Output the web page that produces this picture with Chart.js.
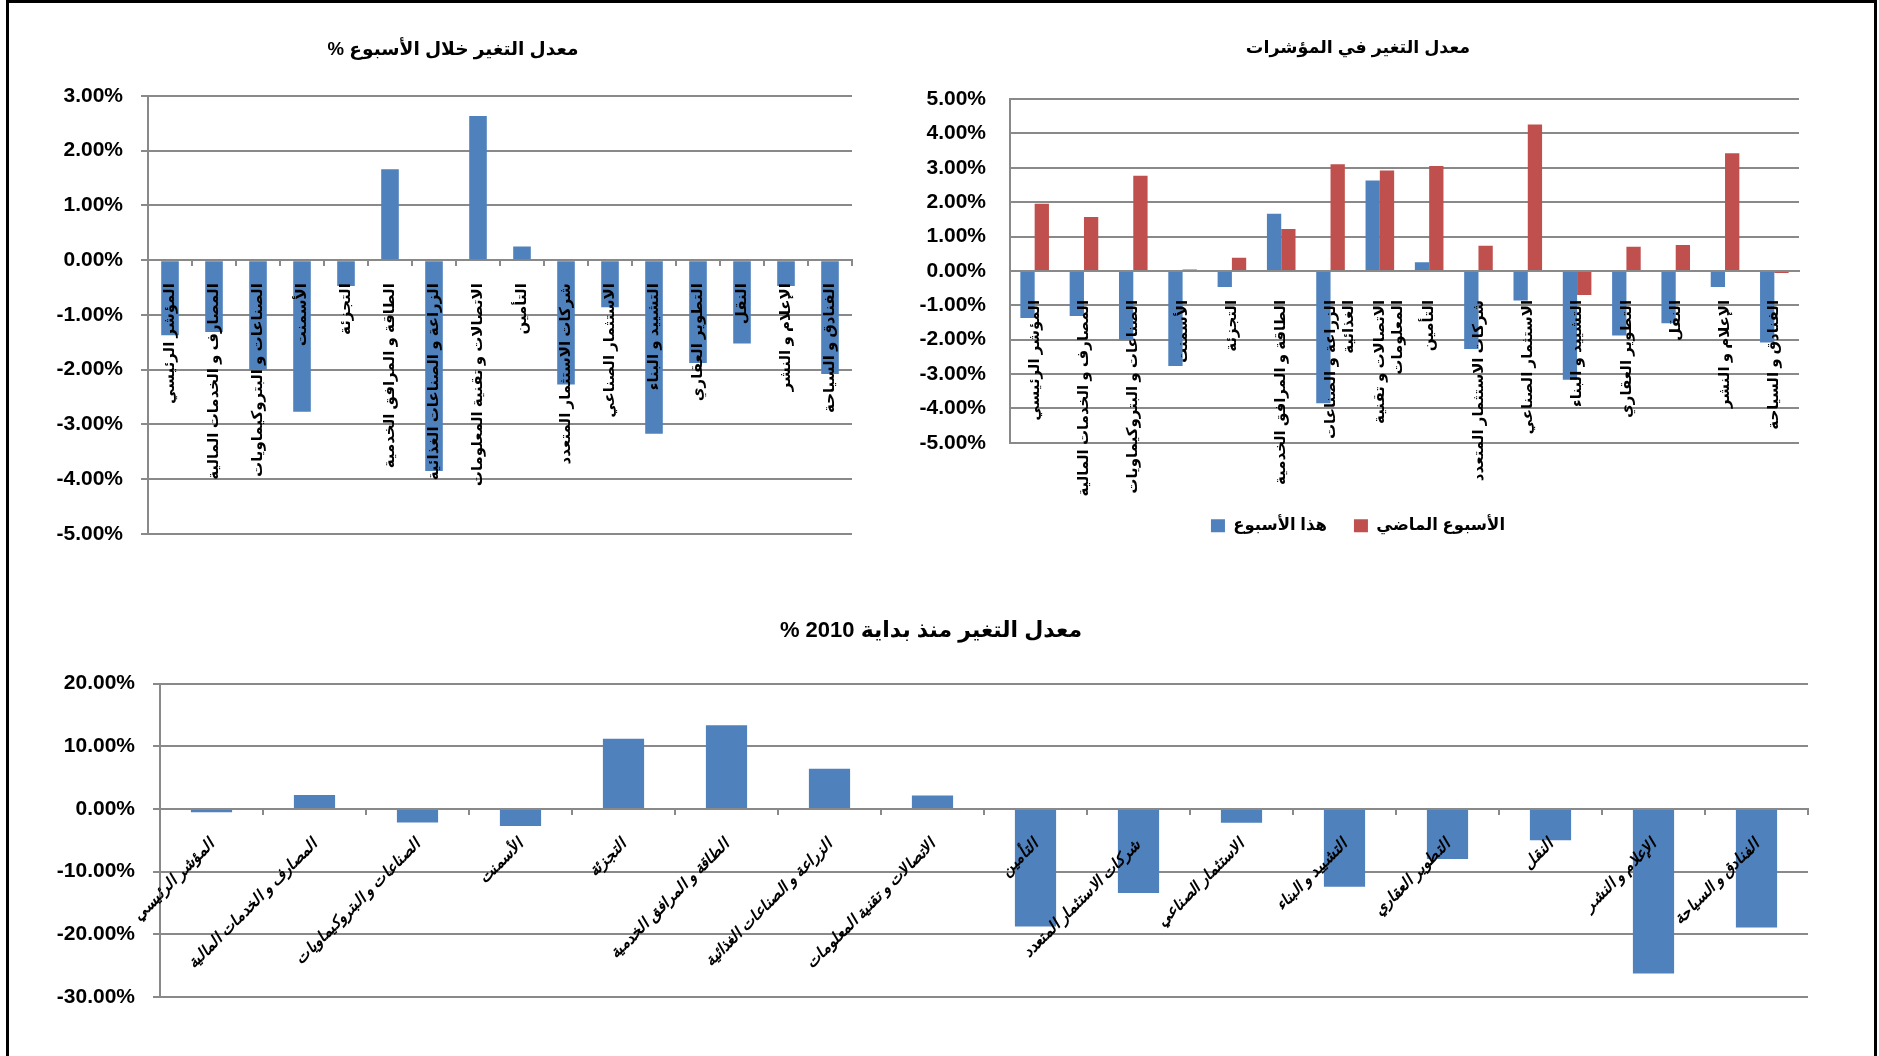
<!DOCTYPE html>
<html><head><meta charset="utf-8">
<script src="https://cdn.jsdelivr.net/npm/chart.js@4.4.1/dist/chart.umd.min.js"></script>
<style>
html,body{margin:0;padding:0;background:#fff;width:1879px;height:1056px;overflow:hidden;}
#frame{position:absolute;left:6px;top:0;width:1871px;height:1100px;border:3px solid #000;box-sizing:border-box;}
canvas{position:absolute;}
</style></head><body>
<div id="frame"></div>
<canvas id="c1" width="834" height="560" style="left:40px;top:0"></canvas>
<canvas id="c2" width="894" height="550" style="left:915px;top:0"></canvas>
<canvas id="c3" width="1785" height="437" style="left:40px;top:580px"></canvas>
<script>
// ---- data ----
const categories = [
  'المؤشر الرئيسي', 'المصارف و الخدمات المالية', 'الصناعات و البتروكيماويات', 'الأسمنت',
  'التجزئة', 'الطاقة و المرافق الخدمية', 'الزراعة و الصناعات الغذائية', 'الاتصالات و تقنية المعلومات',
  'التأمين', 'شركات الاستثمار المتعدد', 'الاستثمار الصناعي', 'التشييد و البناء',
  'التطوير العقاري', 'النقل', 'الإعلام و النشر', 'الفنادق و السياحة'
];
const categoriesWrapped = [
  'المؤشر الرئيسي', 'المصارف و الخدمات المالية', 'الصناعات و البتروكيماويات', 'الأسمنت',
  'التجزئة', 'الطاقة و المرافق الخدمية', ['الزراعة و الصناعات', 'الغذائية'], ['الاتصالات و تقنية', 'المعلومات'],
  'التأمين', 'شركات الاستثمار المتعدد', 'الاستثمار الصناعي', 'التشييد و البناء',
  'التطوير العقاري', 'النقل', 'الإعلام و النشر', 'الفنادق و السياحة'
];
const thisWeek = [-1.37, -1.31, -2.00, -2.77, -0.47, 1.66, -3.85, 2.63, 0.25, -2.27, -0.86, -3.17, -1.88, -1.52, -0.47, -2.08];
const lastWeek = [1.95, 1.57, 2.77, 0.04, 0.38, 1.22, 3.10, 2.92, 3.05, 0.73, 4.26, -0.70, 0.70, 0.75, 3.42, -0.06];
const since2010 = [-0.52, 2.23, -2.18, -2.72, 11.22, 13.37, 6.42, 2.14, -18.74, -13.42, -2.19, -12.43, -7.99, -5.01, -26.27, -18.90];

const weekTicks = [-5, -4, -3, -2, -1, 0, 1, 2, 3];
const indexTicks = [-5, -4, -3, -2, -1, 0, 1, 2, 3, 4, 5];
const ytdTicks = [-30, -20, -10, 0, 10, 20];

const titleWeek = 'معدل التغير خلال الأسبوع %';
const titleIndex = 'معدل التغير في المؤشرات';
const titleYtd = 'معدل التغير منذ بداية 2010 %';
const seriesThisWeek = 'هذا الأسبوع';
const seriesLastWeek = 'الأسبوع الماضي';

// ---- style ----
const FAMILY = "'Liberation Sans', 'DejaVu Sans', sans-serif";
const GRID = '#898989';
const BLUE = '#4F81BD';
const RED = '#C0504D';
const rtl = s => '\u202B' + s + '\u202C';

function yScale(ticksArr, width, tickMarks, pad) {
  return {
    min: Math.min(...ticksArr), max: Math.max(...ticksArr),
    afterBuildTicks: s => { s.ticks = ticksArr.map(v => ({ value: v })); },
    afterFit: s => { s.width = width; s.paddingTop = 0; s.paddingBottom = 0; },
    ticks: { font: { family: FAMILY, size: 21, weight: 'bold' }, color: '#000', padding: pad,
             callback: v => Number(v).toFixed(2) + '%' },
    grid: { color: GRID, lineWidth: 2, drawTicks: tickMarks, tickLength: 7 },
    border: { display: true, color: GRID, width: 2 }
  };
}
function xScale(rot, tickMarks, pad, fontOpt) {
  return {
    position: { y: 0 },
    afterFit: s => { s.paddingLeft = 0; s.paddingRight = 0; },
    ticks: { z: 1, autoSkip: false, minRotation: rot, maxRotation: rot, padding: pad, font: fontOpt, color: '#000' },
    grid: { display: tickMarks, drawOnChartArea: false, drawTicks: true, tickLength: 5, color: GRID, lineWidth: 2, offset: true },
    border: { display: true, color: GRID, width: 2 }
  };
}
function titleOpt(text, size, top, bottom) {
  return { display: true, text: rtl(text), color: '#000', font: { family: FAMILY, size, weight: 'bold' }, padding: { top, bottom } };
}

Chart.defaults.animation = false;
Chart.defaults.responsive = false;
Chart.defaults.devicePixelRatio = 1;

// Chart 1: weekly change
new Chart(document.getElementById('c1'), {
  type: 'bar',
  data: { labels: categories, datasets: [{ label: seriesThisWeek, data: thisWeek, backgroundColor: BLUE, borderWidth: 0, categoryPercentage: 1, barPercentage: 0.4 }] },
  options: {
    layout: { padding: { left: 14, right: 22, top: 0, bottom: 26 } },
    scales: {
      x: xScale(90, true, 18, { family: FAMILY, size: 15, weight: 'bold' }),
      y: yScale(weekTicks, 94, true, 18)
    },
    plugins: { title: titleOpt(titleWeek, 18.6, 38.5, 35), legend: { display: false }, tooltip: { enabled: false } }
  }
});

// Chart 2: index change this week vs last week
new Chart(document.getElementById('c2'), {
  type: 'bar',
  data: { labels: categoriesWrapped, datasets: [
    { label: seriesThisWeek, data: thisWeek, backgroundColor: BLUE, borderWidth: 0, categoryPercentage: 0.58, barPercentage: 1 },
    { label: seriesLastWeek, data: lastWeek, backgroundColor: RED, borderWidth: 0, categoryPercentage: 0.58, barPercentage: 1 }
  ] },
  options: {
    layout: { padding: { left: 2, right: 10, top: 0, bottom: 6 } },
    scales: {
      x: xScale(90, false, 24, { family: FAMILY, size: 15, weight: 'bold' }),
      y: yScale(indexTicks, 93, false, 24)
    },
    plugins: {
      title: titleOpt(titleIndex, 17.5, 37.5, 40.5),
      legend: { display: true, position: 'bottom',
        labels: { font: { family: FAMILY, size: 16.5, weight: 'bold' }, color: '#000', boxWidth: 14, boxHeight: 13, padding: 27 },
        title: { display: true, text: '', font: { size: 10 }, padding: { top: 35.75, bottom: 0 } } },
      tooltip: { enabled: false }
    }
  }
});

// Chart 3: change since start of 2010
new Chart(document.getElementById('c3'), {
  type: 'bar',
  data: { labels: categories, datasets: [{ label: titleYtd, data: since2010, backgroundColor: BLUE, borderWidth: 0, categoryPercentage: 1, barPercentage: 0.4 }] },
  options: {
    layout: { padding: { left: 14, right: 17, top: 0, bottom: 20 } },
    scales: {
      x: xScale(45, true, 22, { family: FAMILY, size: 15.5, weight: 'bold', style: 'italic' }),
      y: yScale(ytdTicks, 106, true, 18)
    },
    plugins: { title: titleOpt(titleYtd, 22, 37.6, 39.6), legend: { display: false }, tooltip: { enabled: false } }
  }
});
</script>
</body></html>
